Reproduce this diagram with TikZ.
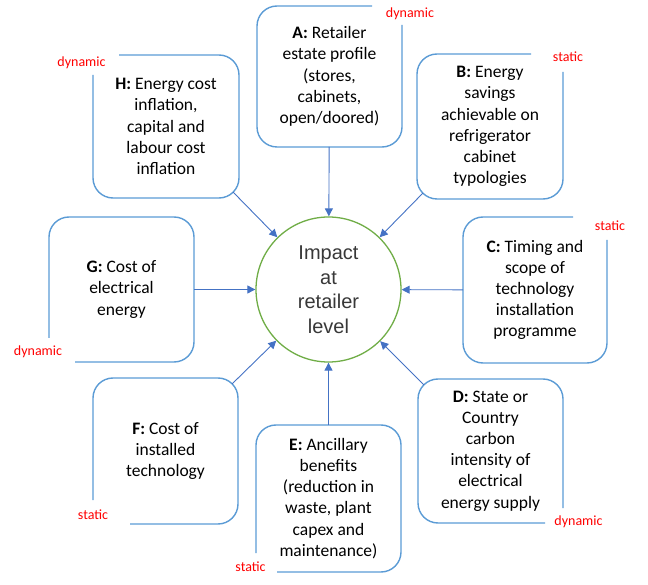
\documentclass[tikz,border=0pt]{standalone}
\usepackage{fontspec}
\setmainfont{Carlito}
\newfontfamily\arialfont{Liberation Sans}
\usetikzlibrary{arrows.meta}
\definecolor{boxblue}{HTML}{5B9BD5}
\definecolor{arrblue}{HTML}{4472C4}
\definecolor{circgreen}{HTML}{70AD47}
\definecolor{circtext}{HTML}{383838}
\newcommand\openTR[3]{\draw[boxline] ([xshift=-#2]#1.north east) -- (#1.north west) -- (#1.south west) -- (#1.south east) -- ([yshift=-#3]#1.north east);}
\newcommand\openTL[3]{\draw[boxline] ([yshift=-#3]#1.north west) -- (#1.south west) -- (#1.south east) -- (#1.north east) -- ([xshift=#2]#1.north west);}
\newcommand\openBL[3]{\draw[boxline] ([xshift=#2]#1.south west) -- (#1.south east) -- (#1.north east) -- (#1.north west) -- ([yshift=#3]#1.south west);}
\newcommand\openBR[3]{\draw[boxline] ([yshift=#3]#1.south east) -- (#1.north east) -- (#1.north west) -- (#1.south west) -- ([xshift=-#2]#1.south east);}
\begin{document}
\begin{tikzpicture}[x=1pt,y=-1pt,
  textbox/.style={draw=none, outer sep=0pt, inner sep=0pt, align=center,
    font=\fontsize{17.5}{21.2}\selectfont},
  boxline/.style={draw=boxblue, line width=1.4pt, rounded corners=20pt},
  arr/.style={draw=arrblue, line width=0.9pt, -{Triangle[length=8pt,width=8pt]}},
  tag/.style={text=red, font=\fontsize{14}{16}\selectfont, inner sep=0pt},
  circ/.style={circle, draw=circgreen, line width=1.3pt, minimum size=145pt, inner sep=0pt,
    align=center, text=circtext, font=\arialfont\fontsize{20}{24.5}\selectfont}]
\useasboundingbox (0,0) rectangle (648,585);

\node[circ] (c) at (328.5,289.5) {Impact\\at\\retailer\\level};

\node[textbox, minimum width=145pt, minimum height=141pt] (A) at (329.5,76.5)
  {\textbf{A:} Retailer\\estate profile\\(stores,\\cabinets,\\open/doored)};
\node[textbox, minimum width=146pt, minimum height=145pt] (B) at (490,126.5)
  {\textbf{B:} Energy\\savings\\achievable on\\refrigerator\\cabinet\\typologies};
\node[textbox, minimum width=144pt, minimum height=146pt] (C) at (535,290)
  {\textbf{C:} Timing and\\scope of\\technology\\installation\\programme};
\node[textbox, minimum width=145pt, minimum height=144pt] (D) at (490.5,451)
  {\textbf{D:} State or\\Country\\carbon\\intensity of\\electrical\\energy supply};
\node[textbox, minimum width=145pt, minimum height=147pt] (E) at (328.5,498.5)
  {\textbf{E:} Ancillary\\benefits\\(reduction in\\waste, plant\\capex and\\maintenance)};
\node[textbox, minimum width=145pt, minimum height=146pt] (F) at (165.5,451)
  {\textbf{F:} Cost of\\installed\\technology};
\node[textbox, minimum width=145pt, minimum height=145pt] (G) at (121.5,289.5)
  {\textbf{G:} Cost of\\electrical\\energy};
\node[textbox, minimum width=146pt, minimum height=143pt] (H) at (166,126.5)
  {\textbf{H:} Energy cost\\inflation,\\capital and\\labour cost\\inflation};

\openTR{A}{30pt}{19pt}
\openTR{B}{32pt}{18pt}
\openTR{C}{34pt}{23pt}
\openBR{D}{18pt}{15pt}
\openBL{E}{21pt}{19pt}
\openBL{F}{37pt}{24pt}
\openBL{G}{26pt}{24pt}
\openTL{H}{26pt}{20pt}

\node[tag] (tA) at (410,14) {dynamic};
\node[tag] (tB) at (568,57) {static};
\node[tag] (tC) at (610,226) {static};
\node[tag] (tD) at (578.5,522) {dynamic};
\node[tag] (tE) at (250.5,567) {static};
\node[tag] (tF) at (93,515) {static};
\node[tag] (tG) at (38,352) {dynamic};
\node[tag] (tH) at (81.5,63) {dynamic};

\draw[arr] (A) -- (c);
\draw[arr] (C) -- (c);
\draw[arr] (E) -- (c);
\draw[arr] (G) -- (c);
\draw[arr] ([xshift=6pt,yshift=6pt]B.south west) -- (c);
\draw[arr] ([xshift=-6pt,yshift=6pt]H.south east) -- (c);
\draw[arr] ([xshift=-6pt,yshift=-6pt]F.north east) -- (c);
\draw[arr] ([xshift=6pt,yshift=-6pt]D.north west) -- (c);
\end{tikzpicture}
\end{document}
